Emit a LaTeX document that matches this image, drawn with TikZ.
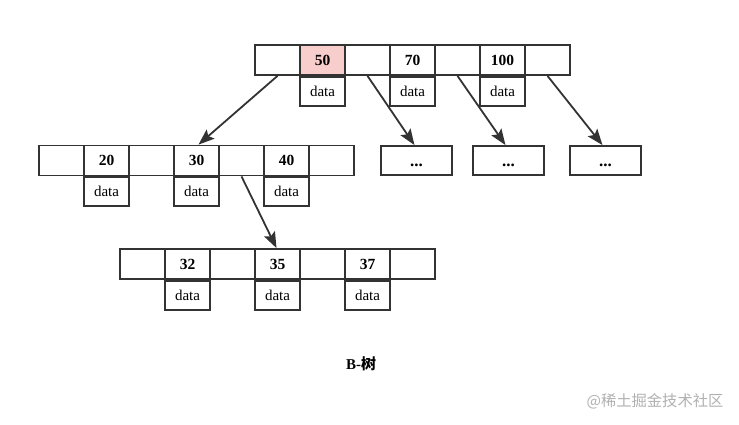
\documentclass[tikz,border=0pt]{standalone}
\usepackage{fontspec}
\setmainfont{Liberation Serif}
\newfontfamily\cjk{Noto Sans CJK SC}
\usetikzlibrary{positioning,arrows.meta}
\definecolor{linegray}{HTML}{333333}
\definecolor{keypink}{HTML}{F8CECC}
\definecolor{markgray}{HTML}{B0B0B0}
\tikzset{
  cell/.style={draw=linegray, line width=1.8pt, minimum width=45pt, minimum height=30pt, inner sep=0pt, font=\fontsize{15.5}{15.5}\selectfont\bfseries},
  datacell/.style={cell, minimum height=29pt, font=\fontsize{15}{15}\selectfont},
  morebox/.style={cell, minimum width=71pt, minimum height=29pt, text height=11pt, text depth=0pt, font=\fontsize{17}{17}\selectfont\bfseries},
  ptr/.style={draw=linegray, line width=1.8pt, -{Stealth[length=16pt,width=12pt,inset=3pt]}}
}
\begin{document}
\begin{tikzpicture}[x=1pt,y=-1pt]
\useasboundingbox (0,0) rectangle (739,424);

% root
\foreach \k [count=\i from 0] in {{},50,{},70,{},100,{}}
  \node[cell] (t\i) at (277.5+45*\i,60) {\k};
\node[cell, fill=keypink] at (t1) {50};
\foreach \i in {1,3,5}
  \node[datacell, below=0pt of t\i] (td\i) {data};

% second level
\foreach \k [count=\i from 0] in {{},20,{},30,{},40,{}}
  \node[cell] (m\i) at (61.5+45*\i,160.5) {\k};
\foreach \i in {1,3,5}
  \node[datacell, below=0pt of m\i] (md\i) {data};

\node[morebox] (r1) at (416.5,160.5) {...};
\node[morebox] (r2) at (508.5,160.5) {...};
\node[morebox] (r3) at (605.5,160.5) {...};

% third level
\foreach \k [count=\i from 0] in {{},32,{},35,{},37,{}}
  \node[cell] (b\i) at (142.5+45*\i,264) {\k};
\foreach \i in {1,3,5}
  \node[datacell, below=0pt of b\i] (bd\i) {data};

% pointers
\draw[ptr] (t0.south) -- ([xshift=2pt]m3.north);
\draw[ptr] (t2.south) -- ([xshift=-2pt]r1.north);
\draw[ptr] (t4.south) -- ([xshift=-3pt]r2.north);
\draw[ptr] (t6.south) -- ([xshift=-3pt]r3.north);
\draw[ptr] (m4.south) -- ([xshift=-1pt]b3.north);

\node[font=\fontsize{15}{15}\selectfont\bfseries] (title) at (361,364) {B-{\cjk 树}};
\node[font=\cjk\fontsize{15.3}{15.3}\selectfont, text=markgray] (mark) at (655,401) {@稀土掘金技术社区};
\end{tikzpicture}
\end{document}
